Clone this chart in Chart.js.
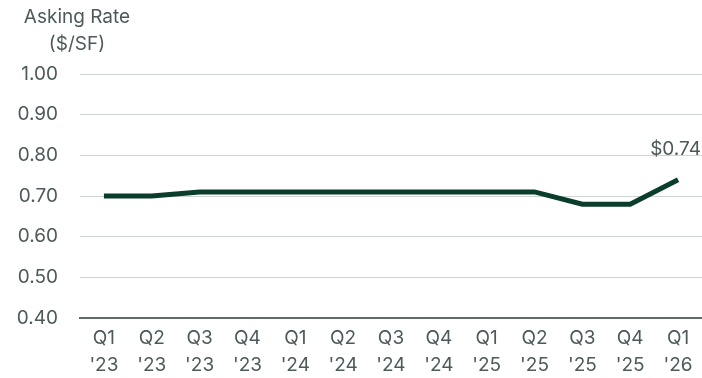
<!DOCTYPE html>
<html>
<head>
<meta charset="utf-8">
<script src="https://cdn.jsdelivr.net/npm/chart.js@4"></script>
<style>
  html, body { margin: 0; padding: 0; background: #fff; }
  #wrap { width: 702px; height: 378px; }
</style>
</head>
<body>
<div id="wrap"><canvas id="chart" width="702" height="378"></canvas></div>
<script>
// quarters (two-line labels)
const quarters = ["Q1", "Q2", "Q3", "Q4", "Q1", "Q2", "Q3", "Q4", "Q1", "Q2", "Q3", "Q4", "Q1"];
const years = ["'23", "'23", "'23", "'23", "'24", "'24", "'24", "'24", "'25", "'25", "'25", "'25", "'26"];
// asking rate $/SF
const askingRate = [0.70, 0.70, 0.71, 0.71, 0.71, 0.71, 0.71, 0.71, 0.71, 0.71, 0.68, 0.68, 0.74];
const yTicks = [0.40, 0.50, 0.60, 0.70, 0.80, 0.90, 1.00];

const textColor = "#4d5a59";
const lineColor = "#0a3d2c";
const fontFamily = "Inter, 'Noto Sans', sans-serif";

const labels = quarters.map((q, i) => [q, years[i]]);

// axis title + last-point label
const extras = {
  id: "extras",
  afterDraw(chart) {
    const ctx = chart.ctx;
    ctx.save();
    ctx.fillStyle = textColor;
    ctx.font = `19px ${fontFamily}`;
    ctx.textBaseline = "middle";
    ctx.textAlign = "center";
    ctx.fillText("Asking Rate", 77, 17);
    ctx.fillText("($/SF)", 77, 44);

    const meta = chart.getDatasetMeta(0);
    const last = meta.data[meta.data.length - 1];
    const v = askingRate[askingRate.length - 1];
    ctx.textAlign = "right";
    ctx.fillText("$" + v.toFixed(2), chart.width - 1, last.y - 30);
    ctx.restore();
  }
};

new Chart(document.getElementById("chart"), {
  type: "line",
  data: {
    labels: labels,
    datasets: [{
      data: askingRate,
      borderColor: lineColor,
      borderWidth: 5,
      pointRadius: 0,
      tension: 0,
      fill: false
    }]
  },
  options: {
    responsive: false,
    animation: false,
    layout: { padding: { top: 74, right: 0, left: 0, bottom: 0 } },
    plugins: {
      legend: { display: false },
      tooltip: { enabled: false }
    },
    scales: {
      x: {
        offset: true,
        afterFit(axis) { axis.height = 60; },
        grid: { display: false, drawTicks: false },
        border: { display: true, color: "#5f6b6b", width: 2 },
        ticks: {
          color: textColor,
          font: { family: fontFamily, size: 19, lineHeight: 1.4 },
          maxRotation: 0,
          autoSkip: false,
          padding: 7
        }
      },
      y: {
        min: 0.4,
        max: 1.0,
        afterBuildTicks(axis) {
          axis.ticks = yTicks.map(v => ({ value: v }));
        },
        afterFit(axis) { axis.width = 80; },
        grid: { color: "#cfd3d3", lineWidth: 1, drawTicks: false },
        border: { display: false },
        ticks: {
          color: textColor,
          font: { family: fontFamily, size: 19 },
          padding: 22,
          callback: v => Number(v).toFixed(2)
        }
      }
    }
  },
  plugins: [extras]
});
</script>
</body>
</html>
